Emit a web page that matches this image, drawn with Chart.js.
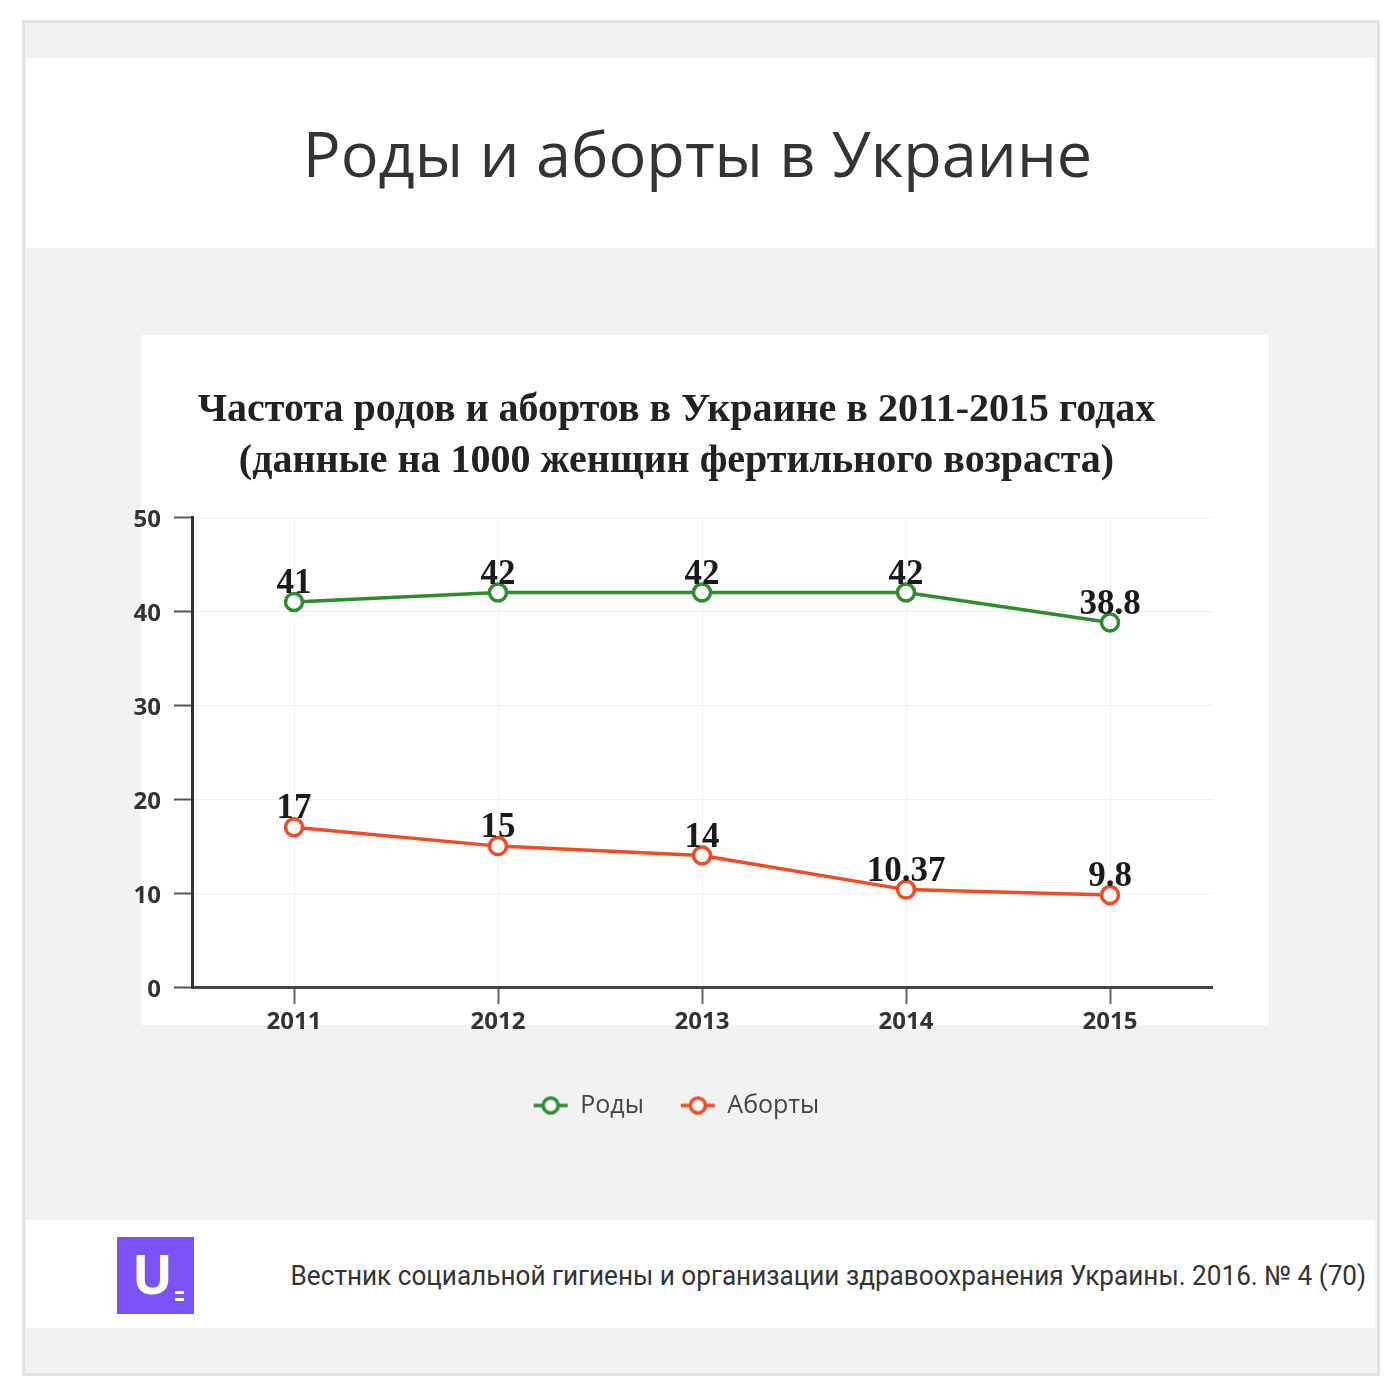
<!DOCTYPE html>
<html lang="ru">
<head>
<meta charset="utf-8">
<title>Роды и аборты в Украине</title>
<script src="https://cdn.jsdelivr.net/npm/chart.js@4/dist/chart.umd.min.js"></script>
<style>
  html, body { margin: 0; padding: 0; background: #fff; }
  body { width: 1400px; height: 1400px; position: relative; overflow: hidden; }
  .frame {
    position: absolute; left: 22px; top: 20px; width: 1352px; height: 1350px;
    border: 3px solid #e2e2e2; background: #f2f2f2;
  }
  .header {
    position: absolute; left: 26px; top: 58px; width: 1343px; height: 190px;
    padding-right: 6px;
    background: #fff; text-align: center;
    font-family: "Open Sans", sans-serif; font-size: 63px; color: #333;
    line-height: 190px;
  }
  .chart-bg {
    position: absolute; left: 141px; top: 335px; width: 1127px; height: 690px;
    background: #fff;
  }
  .chart-wrap {
    position: absolute; left: 100px; top: 335px; width: 1168px; height: 793px;
  }
  .footer {
    position: absolute; left: 26px; top: 1220px; width: 1349px; height: 108px;
    background: #fff;
  }
  .logo {
    position: absolute; left: 91px; top: 17px; width: 77px; height: 77px;
    background: #7b52f6;
  }
  .logo .u {
    position: absolute; left: 15px; top: 3px;
    font-family: "Open Sans", sans-serif; font-weight: 700; font-size: 54px;
    color: #fff; line-height: 66px;
  }
  .logo .bar { position: absolute; left: 58px; width: 9px; height: 3px; background: #fff; }
  .source {
    position: absolute; right: 9px; top: 0; height: 108px; line-height: 112px;
    font-family: Roboto, sans-serif; font-size: 27px; color: #333;
    white-space: nowrap; transform: scaleX(0.968); transform-origin: right center;
  }
</style>
</head>
<body>
<div class="frame"></div>
<div class="header">Роды и аборты в Украине</div>
<div class="chart-bg"></div>
<div class="chart-wrap"><canvas id="chart"></canvas></div>
<div class="footer">
  <div class="logo"><span class="u">U</span><span class="bar" style="top:54px"></span><span class="bar" style="top:61px"></span></div>
  <div class="source">Вестник социальной гигиены и организации здравоохранения Украины. 2016. № 4 (70)</div>
</div>

<script>
// ─── Data ────────────────────────────────────────────────
const years = ['2011', '2012', '2013', '2014', '2015'];
const births = [41, 42, 42, 42, 38.8];
const abortions = [17, 15, 14, 10.37, 9.8];
const yTickValues = [0, 10, 20, 30, 40, 50];

const seriesNames = ['Роды', 'Аборты'];
const seriesColors = ['#2e8b2e', '#f24a22'];

// ─── Legend marker: line with a hollow circle ────────────
function legendMarker(color) {
    const c = document.createElement('canvas');
    c.width = 36;
    c.height = 22;
    const ctx = c.getContext('2d');
    ctx.strokeStyle = color;
    ctx.lineWidth = 3.5;
    ctx.beginPath();
    ctx.moveTo(1, 11);
    ctx.lineTo(35, 11);
    ctx.stroke();
    ctx.beginPath();
    ctx.arc(18, 11, 7.5, 0, Math.PI * 2);
    ctx.fillStyle = '#fff';
    ctx.fill();
    ctx.stroke();
    return c;
}
const markers = seriesColors.map(legendMarker);

// ─── Value labels above points ───────────────────────────
const valueLabels = {
    id: 'valueLabels',
    afterDatasetsDraw(chart) {
        const ctx = chart.ctx;
        ctx.save();
        ctx.font = 'bold 35px "Liberation Serif", serif';
        ctx.fillStyle = '#1a1a1a';
        ctx.textAlign = 'center';
        ctx.textBaseline = 'alphabetic';
        chart.data.datasets.forEach((ds, i) => {
            chart.getDatasetMeta(i).data.forEach((pt, j) => {
                ctx.fillText(String(ds.data[j]), pt.x, pt.y - 9);
            });
        });
        ctx.restore();
    }
};

const tickFont = { family: "'Open Sans', sans-serif", size: 24, weight: 'bold' };

new Chart(document.getElementById('chart'), {
    type: 'line',
    data: {
        labels: years,
        datasets: [births, abortions].map((values, i) => ({
            label: seriesNames[i],
            data: values,
            borderColor: seriesColors[i],
            backgroundColor: '#fff',
            borderWidth: 3.5,
            pointRadius: 8.5,
            pointBorderWidth: 3.5,
            pointBackgroundColor: '#fff',
            pointBorderColor: seriesColors[i],
            tension: 0
        }))
    },
    options: {
        responsive: true,
        maintainAspectRatio: false,
        animation: false,
        // title and legend centre on the white box, the y labels hang out to the left
        layout: { padding: { left: 0, right: 15, top: 0, bottom: 0 } },
        scales: {
            x: {
                offset: true,
                grid: { color: '#f1f1f1', lineWidth: 1, tickColor: '#666', tickLength: 17, tickWidth: 2 },
                border: { color: '#444', width: 3 },
                ticks: { font: tickFont, color: '#333', padding: 4 },
                afterFit(s) { s.height = 69; }
            },
            y: {
                min: 0,
                max: 50,
                afterBuildTicks(s) { s.ticks = yTickValues.map(v => ({ value: v })); },
                grid: { color: '#f1f1f1', lineWidth: 1, tickColor: '#555', tickLength: 18, tickWidth: 2 },
                border: { color: '#333', width: 3 },
                ticks: { font: tickFont, color: '#333', padding: 13, labelOffset: 3 },
                afterFit(s) { s.width = 92; }
            },
            // empty spacer on the right
            yRight: {
                position: 'right',
                grid: { display: false },
                border: { display: false },
                ticks: { display: false },
                afterFit(s) { s.width = 41; }
            }
        },
        plugins: {
            title: {
                display: true,
                text: ['Частота родов и абортов в Украине в 2011-2015 годах',
                       '(данные на 1000 женщин фертильного возраста)'],
                font: { family: "'Liberation Serif', serif", size: 40, weight: 'bold', lineHeight: 1.28 },
                color: '#222',
                padding: { top: 50, bottom: 30 }
            },
            legend: {
                position: 'bottom',
                labels: {
                    usePointStyle: true,
                    pointStyleWidth: 34,
                    padding: 37,
                    color: '#444',
                    font: { family: "'Open Sans', sans-serif", size: 25 },
                    generateLabels(chart) {
                        const items = Chart.defaults.plugins.legend.labels.generateLabels(chart);
                        items.forEach(it => { it.pointStyle = markers[it.datasetIndex]; });
                        return items;
                    }
                }
            },
            tooltip: { enabled: false }
        }
    },
    plugins: [valueLabels]
});
</script>
</body>
</html>
